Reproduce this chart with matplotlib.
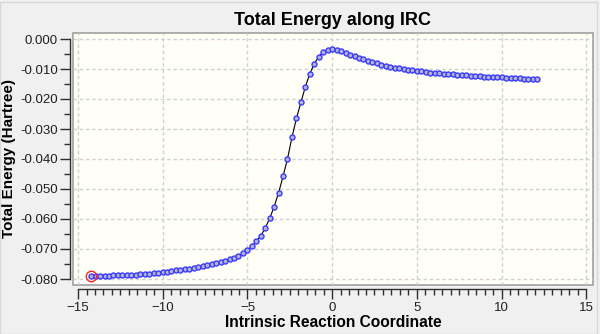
import matplotlib
matplotlib.use("Agg")
import matplotlib.pyplot as plt
from matplotlib.ticker import MultipleLocator, FormatStrFormatter
from matplotlib.patches import Rectangle

plt.rcParams['font.family'] = ['Liberation Sans', 'DejaVu Sans']

# IRC points: reaction coordinate and total energy relative to TS-path reference (Hartree)
irc_coord = [
    -14.23, -13.97, -13.70, -13.44, -13.18, -12.91, -12.65, -12.38, -12.12, -11.86,
    -11.59, -11.33, -11.07, -10.80, -10.54, -10.28, -10.01, -9.75, -9.49, -9.22,
    -8.96, -8.70, -8.43, -8.17, -7.91, -7.64, -7.38, -7.11, -6.85, -6.59,
    -6.32, -6.06, -5.80, -5.53, -5.27, -5.01, -4.74, -4.48, -4.22, -3.95,
    -3.69, -3.43, -3.16, -2.90, -2.64, -2.37, -2.11, -1.84, -1.58, -1.32,
    -1.05, -0.79, -0.53, -0.26, 0.00, 0.26, 0.53, 0.79, 1.05, 1.32,
    1.58, 1.84, 2.11, 2.37, 2.64, 2.90, 3.16, 3.43, 3.69, 3.95,
    4.22, 4.48, 4.74, 5.01, 5.27, 5.53, 5.80, 6.06, 6.32, 6.59,
    6.85, 7.11, 7.38, 7.64, 7.91, 8.17, 8.43, 8.70, 8.96, 9.22,
    9.49, 9.75, 10.01, 10.28, 10.54, 10.80, 11.07, 11.33, 11.59, 11.86,
    12.12,
]
energy = [
    -0.0790, -0.0790, -0.0789, -0.0789, -0.0789, -0.0788, -0.0788, -0.0787, -0.0787, -0.0786,
    -0.0785, -0.0784, -0.0783, -0.0782, -0.0780, -0.0779, -0.0777, -0.0775, -0.0773, -0.0771,
    -0.0769, -0.0767, -0.0765, -0.0762, -0.0760, -0.0757, -0.0754, -0.0751, -0.0747, -0.0743,
    -0.0739, -0.0734, -0.0729, -0.0722, -0.0714, -0.0705, -0.0691, -0.0675, -0.0657, -0.0630,
    -0.0598, -0.0560, -0.0512, -0.0458, -0.0400, -0.0327, -0.0265, -0.0210, -0.0159, -0.0116,
    -0.0082, -0.0059, -0.0043, -0.0037, -0.0034, -0.0036, -0.0041, -0.0047, -0.0053, -0.0058,
    -0.0063, -0.0068, -0.0073, -0.0077, -0.0081, -0.0085, -0.0089, -0.0092, -0.0095, -0.0098,
    -0.0100, -0.0102, -0.0104, -0.0106, -0.0108, -0.0110, -0.0112, -0.0113, -0.0114, -0.0116,
    -0.0117, -0.0118, -0.0119, -0.0120, -0.0121, -0.0122, -0.0123, -0.0124, -0.0125, -0.0126,
    -0.0126, -0.0127, -0.0128, -0.0129, -0.0130, -0.0130, -0.0131, -0.0132, -0.0132, -0.0133,
    -0.0134,
]
current_point = 0  # highlighted point on the path

fig = plt.figure(figsize=(6, 3.34), dpi=100, facecolor='#f0f0f0')
ax = fig.add_axes([73 / 600, 1 - 285 / 334, 520 / 600, 252 / 334])
ax.set_facecolor('#fffff7')
ax.patch.set_edgecolor('#a0a0a0')
ax.patch.set_linewidth(1.2)

ax.plot(irc_coord, energy, color='black', lw=0.8, zorder=3)
ax.plot(irc_coord, energy, ls='none', marker='o', ms=3.6, mew=1.0,
        mec='#3a3aff', mfc='#b4b4cc', zorder=4)
ax.plot(irc_coord[current_point], energy[current_point], ls='none', marker='o',
        ms=7.5, mew=1.0, mec='#ff2020', mfc='none', zorder=5)

ax.set_xlim(-15.3, 15.4)
ax.set_ylim(-0.0820, 0.0020)

ax.xaxis.set_major_locator(MultipleLocator(5))
ax.xaxis.set_minor_locator(MultipleLocator(0.5))
ax.yaxis.set_major_locator(MultipleLocator(0.01))
ax.yaxis.set_minor_locator(MultipleLocator(0.005))
ax.yaxis.set_major_formatter(FormatStrFormatter('%.3f'))

ax.grid(True, which='major', color='#d0d0d0', ls=(0, (2.5, 2)), lw=1.0, zorder=1)

for side in ('top', 'right'):
    ax.spines[side].set_visible(False)
ax.spines['left'].set_position(('outward', 2))
ax.spines['bottom'].set_position(('outward', 3))
ax.spines['left'].set_bounds(-0.080, 0.000)
ax.spines['bottom'].set_bounds(-15, 15)
for side in ('left', 'bottom'):
    ax.spines[side].set_color('#303030')
    ax.spines[side].set_linewidth(1.0)

ax.tick_params(which='major', length=7, width=1.0, color='#303030',
               labelsize=9.5, labelcolor='#202020', pad=2)
ax.tick_params(which='minor', length=4, width=1.0, color='#303030')

ax.set_title('Total Energy along IRC', fontsize=13, fontweight='bold', pad=6)
ax.set_xlabel('Intrinsic Reaction Coordinate', fontsize=11.2, fontweight='bold', labelpad=1)
ax.set_ylabel('Total Energy (Hartree)', fontsize=11, fontweight='bold', labelpad=3)

fig.patches.append(Rectangle((0, 0), 597 / 600, 1 - 2 / 334, transform=fig.transFigure,
                             fill=False, edgecolor='#d8d8d8', lw=1.0))

fig.savefig('out.png', dpi=100, facecolor=fig.get_facecolor())
